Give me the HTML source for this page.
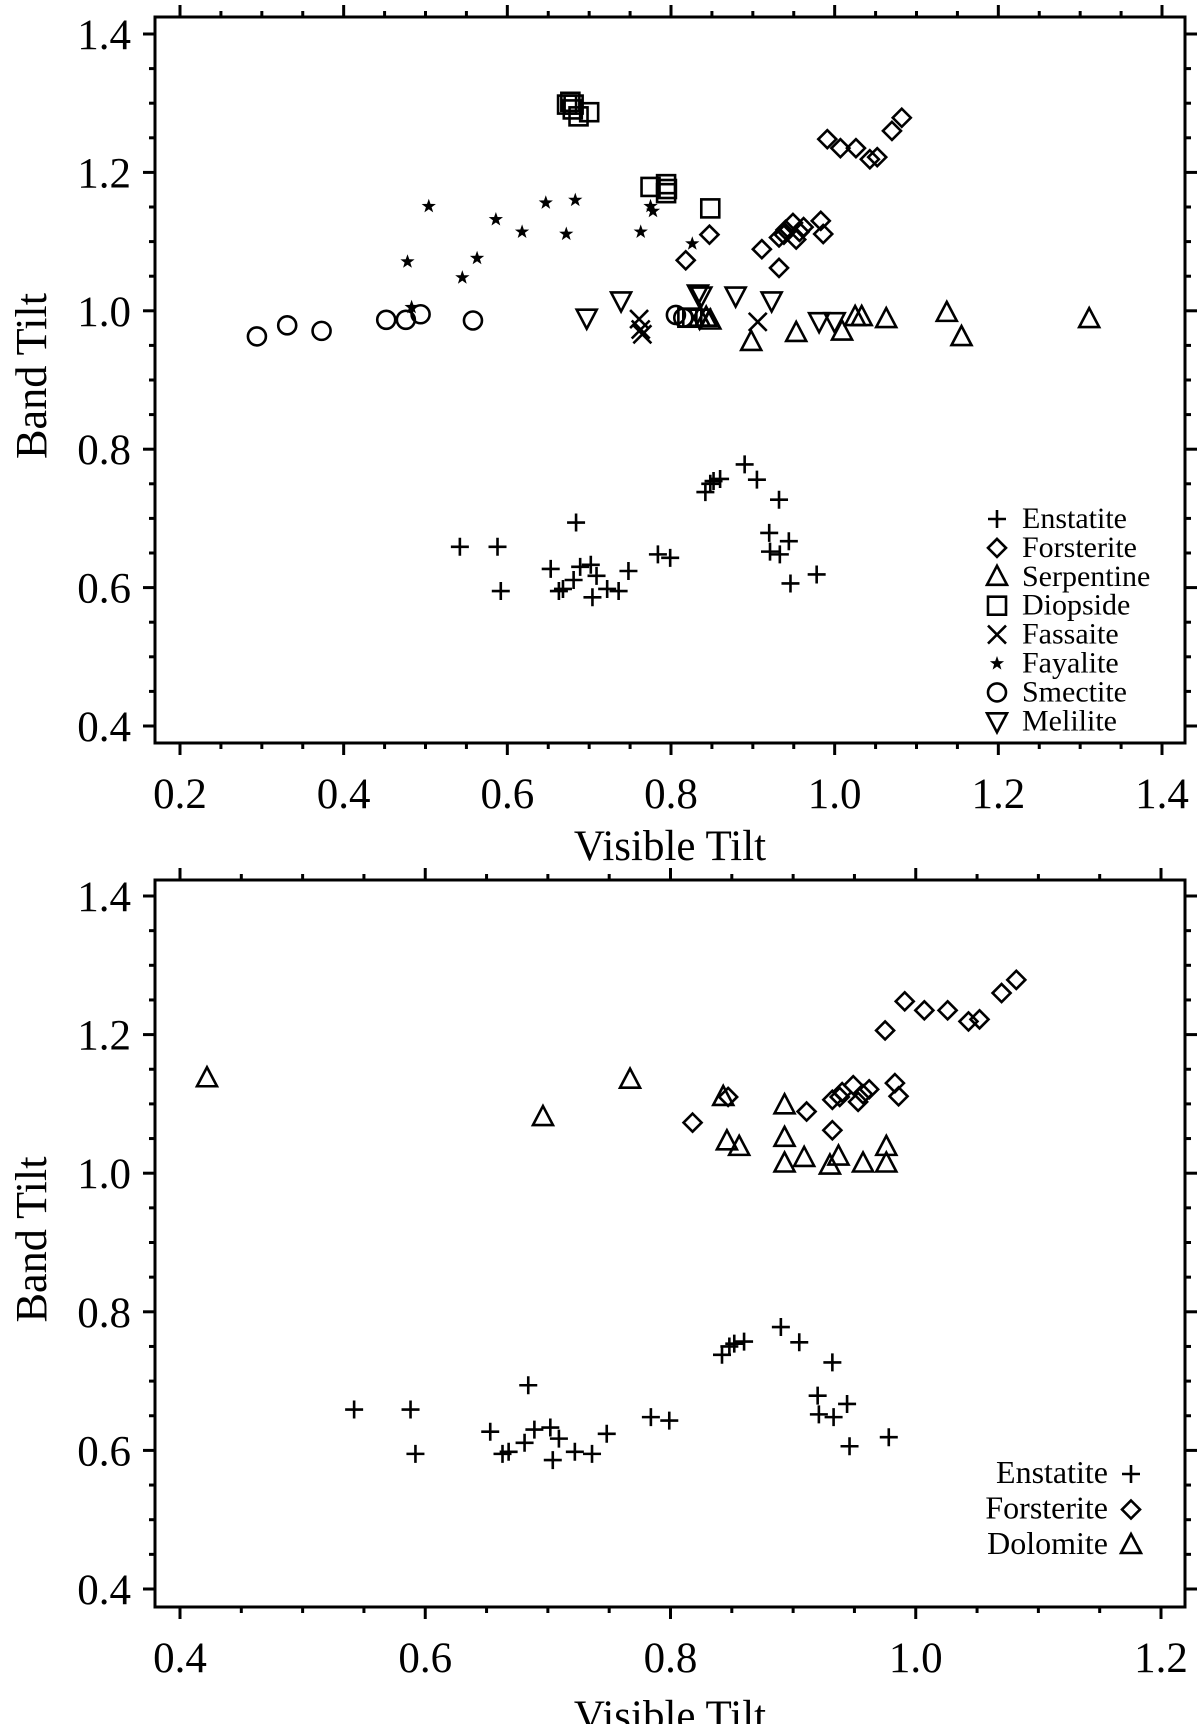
<!DOCTYPE html>
<html><head><meta charset="utf-8"><style>
html,body{margin:0;padding:0;background:#fff;}
svg{display:block;}
text{font-family:"Liberation Serif",serif;fill:#000;}
</style></head><body>
<svg id="chart" width="1200" height="1724" viewBox="0 0 1200 1724" xmlns="http://www.w3.org/2000/svg"></svg>
<script>
// ---- data ----
const enstatiteX = [0.542,0.588,0.592,0.653,0.684,0.668,0.663,0.681,0.689,0.702,0.709,0.704,0.722,0.736,0.748,0.784,0.799,0.842,0.848,0.852,0.860,0.890,0.905,0.932,0.920,0.921,0.933,0.944,0.946,0.978];
const enstatiteY = [0.659,0.659,0.595,0.627,0.694,0.598,0.595,0.611,0.630,0.633,0.617,0.586,0.598,0.595,0.624,0.648,0.643,0.738,0.750,0.754,0.757,0.778,0.756,0.727,0.679,0.652,0.648,0.667,0.606,0.619];
const forsteriteX = [0.818,0.847,0.911,0.932,0.932,0.938,0.940,0.949,0.953,0.957,0.962,0.983,0.986,0.975,0.991,1.007,1.026,1.043,1.052,1.070,1.082];
const forsteriteY = [1.073,1.110,1.089,1.062,1.106,1.110,1.117,1.127,1.103,1.114,1.121,1.130,1.111,1.206,1.248,1.235,1.235,1.219,1.222,1.260,1.279];
const forsteriteTopX = [0.818,0.847,0.911,0.932,0.932,0.938,0.940,0.949,0.953,0.957,0.962,0.983,0.986,0.991,1.007,1.026,1.043,1.052,1.070,1.082];
const forsteriteTopY = [1.073,1.110,1.089,1.062,1.106,1.110,1.117,1.127,1.103,1.114,1.121,1.130,1.111,1.248,1.235,1.235,1.219,1.222,1.260,1.279];
const serpentineX = [0.835,0.843,0.848,0.898,0.953,1.009,1.025,1.033,1.063,1.137,1.155,1.311];
const serpentineY = [0.990,0.990,0.986,0.955,0.968,0.970,0.991,0.991,0.988,0.997,0.962,0.988];
const diopsideX = [0.673,0.677,0.681,0.680,0.687,0.700,0.775,0.794,0.794,0.795,0.848,0.820,0.826];
const diopsideY = [1.298,1.302,1.298,1.291,1.281,1.287,1.179,1.183,1.170,1.176,1.148,0.990,0.990];
const fassaiteX = [0.761,0.763,0.765,0.906];
const fassaiteY = [0.988,0.973,0.966,0.984];
const fayaliteX = [0.478,0.504,0.483,0.545,0.563,0.586,0.618,0.647,0.672,0.683,0.763,0.775,0.778,0.826];
const fayaliteY = [1.071,1.151,1.005,1.048,1.076,1.132,1.114,1.156,1.111,1.160,1.114,1.151,1.144,1.097];
const smectiteX = [0.294,0.331,0.373,0.452,0.476,0.494,0.558,0.806,0.815];
const smectiteY = [0.963,0.979,0.971,0.987,0.987,0.995,0.986,0.994,0.990];
const meliliteX = [0.697,0.739,0.833,0.837,0.835,0.879,0.923,0.981,1.000];
const meliliteY = [0.990,1.015,1.025,1.022,0.990,1.022,1.015,0.985,0.985];
const dolomiteX = [0.422,0.696,0.767,0.843,0.846,0.856,0.893,0.893,0.893,0.909,0.930,0.937,0.957,0.976,0.976];
const dolomiteY = [1.137,1.081,1.135,1.110,1.046,1.038,1.098,1.051,1.014,1.022,1.011,1.024,1.014,1.038,1.014];
const topXTicks = ["0.2","0.4","0.6","0.8","1.0","1.2","1.4"];
const botXTicks = ["0.4","0.6","0.8","1.0","1.2"];
const yTicks = ["0.4","0.6","0.8","1.0","1.2","1.4"];
const topLegend = ["Enstatite","Forsterite","Serpentine","Diopside","Fassaite","Fayalite","Smectite","Melilite"];
const botLegend = ["Enstatite","Forsterite","Dolomite"];

const svg = document.getElementById('chart');
const NS = 'http://www.w3.org/2000/svg';
function mk(tag, attrs, parent){ const e=document.createElementNS(NS,tag); for(const k in attrs) e.setAttribute(k,attrs[k]); (parent||svg).appendChild(e); return e; }

function marker(g, type, cx, cy){
  const s = {stroke:'#000','stroke-width':2.6,fill:'none'};
  let e;
  if(type==='plus'){ e=mk('path',Object.assign({d:`M${cx-9} ${cy}H${cx+9}M${cx} ${cy-9}V${cy+9}`},s),g); }
  else if(type==='diamond'){ e=mk('path',Object.assign({d:`M${cx} ${cy-9}L${cx+9} ${cy}L${cx} ${cy+9}L${cx-9} ${cy}Z`},s),g); }
  else if(type==='tri'){ e=mk('path',Object.assign({d:`M${cx} ${cy-11}L${cx+10} ${cy+8}L${cx-10} ${cy+8}Z`},s),g); }
  else if(type==='dtri'){ e=mk('path',Object.assign({d:`M${cx} ${cy+11}L${cx+10} ${cy-8}L${cx-10} ${cy-8}Z`},s),g); }
  else if(type==='square'){ e=mk('rect',Object.assign({x:cx-9,y:cy-9,width:18,height:18},s),g); }
  else if(type==='x'){ e=mk('path',Object.assign({d:`M${cx-9} ${cy-9}L${cx+9} ${cy+9}M${cx+9} ${cy-9}L${cx-9} ${cy+9}`},s),g); }
  else if(type==='circle'){ e=mk('circle',Object.assign({cx:cx,cy:cy,r:9},s),g); }
  else if(type==='star'){
    let d=''; for(let i=0;i<10;i++){ const r=i%2?3:7.5; const a=-Math.PI/2+i*Math.PI/5; d+=(i?'L':'M')+(cx+r*Math.cos(a)).toFixed(1)+' '+(cy+r*Math.sin(a)).toFixed(1);} 
    e=mk('path',{d:d+'Z',fill:'#000'},g);
  }
  return e;
}

function panel(cfg){
  const g = mk('g',{});
  
  
  const {L,R,T,B,x0,x1,y0,y1} = cfg;
  const X = v => cfg.xa + (v - x0)/(x1 - x0)*(cfg.xb - cfg.xa);
  const Y = v => cfg.ya + (v - y0)/(y1 - y0)*(cfg.yb - cfg.ya);
  const frame = mk('rect',{x:L,y:T,width:R-L,height:B-T,fill:'none',stroke:'#000','stroke-width':3},g);
  
  
  const xt = cfg.xTicks;
  for(let i=0;i<xt.length;i++){
    const v = parseFloat(xt[i]);
    for(let m=0;m<4;m++){
      const vv = v + m*0.05; if(vv>x1+1e-9 && m>0) break;
      const px = X(vv); if(px>R) continue;
      const len = m===0?12:6;
      mk('line',{x1:px,x2:px,y1:B,y2:B+len,stroke:'#000','stroke-width':3},g);
      mk('line',{x1:px,x2:px,y1:T,y2:T-len,stroke:'#000','stroke-width':3},g);
    }
    const t = mk('text',{x:X(v),y:B+65,'font-size':43,'text-anchor':'middle'},g);
    t.textContent = xt[i];
    
    
  }
  for(let i=0;i<yTicks.length;i++){
    const v = parseFloat(yTicks[i]);
    for(let m=0;m<4;m++){
      const vv=v+m*0.05; const py=Y(vv); if(py<T) continue;
      const len=m===0?12:6;
      mk('line',{x1:L,x2:L-len,y1:py,y2:py,stroke:'#000','stroke-width':3},g);
      mk('line',{x1:R,x2:R+len,y1:py,y2:py,stroke:'#000','stroke-width':3},g);
    }
    const t = mk('text',{x:131,y:Y(v)+15,'font-size':43,'text-anchor':'end'},g);
    t.textContent = yTicks[i];
    
    
  }
  const xt2 = mk('text',{x:(L+R)/2,y:cfg.xTitleY,'font-size':43,'text-anchor':'middle'},g);
  xt2.textContent='Visible Tilt';
  
  
  const yc = (T+B)/2;
  const yt = mk('text',{x:0,y:0,'font-size':44,'text-anchor':'middle',textLength:166,lengthAdjust:'spacingAndGlyphs',transform:`translate(46 ${yc-4}) rotate(-90)`},g);
  yt.textContent='Band Tilt';
  
  
  cfg.series.forEach(s=>{
    const sg = mk('g',{},g);
    
    
    for(let i=0;i<s.xs.length;i++){
      const e = marker(sg, s.type, X(s.xs[i]), Y(s.ys[i]));
      
      
    }
  });
  return g;
}

const topSeries = [
  {name:'enstatite',type:'plus',xs:enstatiteX,ys:enstatiteY},
  {name:'forsterite',type:'diamond',xs:forsteriteTopX,ys:forsteriteTopY},
  {name:'serpentine',type:'tri',xs:serpentineX,ys:serpentineY},
  {name:'diopside',type:'square',xs:diopsideX,ys:diopsideY},
  {name:'fassaite',type:'x',xs:fassaiteX,ys:fassaiteY},
  {name:'fayalite',type:'star',xs:fayaliteX,ys:fayaliteY},
  {name:'smectite',type:'circle',xs:smectiteX,ys:smectiteY},
  {name:'melilite',type:'dtri',xs:meliliteX,ys:meliliteY}
];
panel({name:'top-panel',L:155,R:1185,T:17,B:743,x0:0.2,x1:1.4,xa:180,xb:1162,y0:1.4,y1:0.4,ya:34,yb:726,xTicks:topXTicks,xTitleY:860,series:topSeries});
const botSeries = [
  {name:'enstatite',type:'plus',xs:enstatiteX,ys:enstatiteY},
  {name:'forsterite',type:'diamond',xs:forsteriteX,ys:forsteriteY},
  {name:'dolomite',type:'tri',xs:dolomiteX,ys:dolomiteY}
];
panel({name:'bottom-panel',L:155,R:1185,T:880,B:1607,x0:0.4,x1:1.2,xa:180,xb:1161,y0:1.4,y1:0.4,ya:896,yb:1589,xTicks:botXTicks,xTitleY:1730,series:botSeries});

const topTypes=['plus','diamond','tri','square','x','star','circle','dtri'];
const lg1 = mk('g',{});


for(let i=0;i<topLegend.length;i++){
  const by = 528 + i*28.9;
  const ent = mk('g',{},lg1);
  
  
  marker(ent, topTypes[i], 997, by-9);
  const t = mk('text',{x:1022,y:by,'font-size':30},ent);
  t.textContent = topLegend[i];
}
const botTypes=['plus','diamond','tri'];
const lg2 = mk('g',{});


for(let i=0;i<botLegend.length;i++){
  const by = 1483 + i*35.5;
  const ent = mk('g',{},lg2);
  
  
  marker(ent, botTypes[i], 1131, by-9);
  const t = mk('text',{x:1108,y:by,'font-size':32,'text-anchor':'end'},ent);
  t.textContent = botLegend[i];
}
</script>
</body></html>
